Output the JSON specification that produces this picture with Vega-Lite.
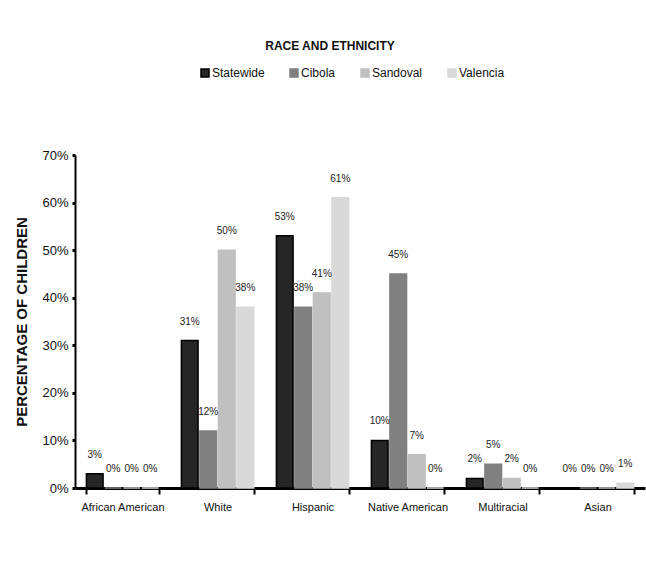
{
  "$schema": "https://vega.github.io/schema/vega-lite/v6.json",
  "width": 570,
  "height": 333,
  "autosize": "none",
  "padding": {"left": 75, "top": 155, "right": 1, "bottom": 85},
  "background": "white",
  "title": {
    "text": "RACE AND ETHNICITY",
    "font": "Liberation Sans",
    "fontSize": 12,
    "fontWeight": "bold",
    "color": "#111",
    "anchor": "middle",
    "dx": -30,
    "offset": 14
  },
  "data": {
    "values": [
      {"group": "African American", "series": "Statewide", "value": 0.03},
      {"group": "African American", "series": "Cibola", "value": 0.0},
      {"group": "African American", "series": "Sandoval", "value": 0.0},
      {"group": "African American", "series": "Valencia", "value": 0.0},
      {"group": "White", "series": "Statewide", "value": 0.31},
      {"group": "White", "series": "Cibola", "value": 0.12},
      {"group": "White", "series": "Sandoval", "value": 0.50},
      {"group": "White", "series": "Valencia", "value": 0.38},
      {"group": "Hispanic", "series": "Statewide", "value": 0.53},
      {"group": "Hispanic", "series": "Cibola", "value": 0.38},
      {"group": "Hispanic", "series": "Sandoval", "value": 0.41},
      {"group": "Hispanic", "series": "Valencia", "value": 0.61},
      {"group": "Native American", "series": "Statewide", "value": 0.10},
      {"group": "Native American", "series": "Cibola", "value": 0.45},
      {"group": "Native American", "series": "Sandoval", "value": 0.07},
      {"group": "Native American", "series": "Valencia", "value": 0.0},
      {"group": "Multiracial", "series": "Statewide", "value": 0.02},
      {"group": "Multiracial", "series": "Cibola", "value": 0.05},
      {"group": "Multiracial", "series": "Sandoval", "value": 0.02},
      {"group": "Multiracial", "series": "Valencia", "value": 0.0},
      {"group": "Asian", "series": "Statewide", "value": 0.0},
      {"group": "Asian", "series": "Cibola", "value": 0.0},
      {"group": "Asian", "series": "Sandoval", "value": 0.0},
      {"group": "Asian", "series": "Valencia", "value": 0.01}
    ]
  },
  "encoding": {
    "x": {
      "field": "group",
      "type": "nominal",
      "sort": ["African American", "White", "Hispanic", "Native American", "Multiracial", "Asian"],
      "scale": {"paddingInner": 0.24, "paddingOuter": 0.12},
      "axis": {
        "title": null,
        "labelAngle": 0,
        "labelFont": "Liberation Sans",
        "labelFontSize": 11,
        "labelColor": "#111",
        "labelPadding": 7,
        "tickBand": "extent",
        "tickSize": 6,
        "tickWidth": 2,
        "tickColor": "black",
        "domainColor": "black",
        "domainWidth": 3
      }
    },
    "xOffset": {
      "field": "series",
      "type": "nominal",
      "sort": ["Statewide", "Cibola", "Sandoval", "Valencia"],
      "scale": {"paddingInner": 0.1}
    },
    "y": {
      "field": "value",
      "type": "quantitative",
      "scale": {"domain": [0, 0.7]},
      "axis": {
        "title": "PERCENTAGE OF CHILDREN",
        "titleFont": "Liberation Sans",
        "titleFontSize": 15,
        "titleFontWeight": "bold",
        "titleColor": "#111",
        "titlePadding": 12,
        "format": ".0%",
        "values": [0, 0.1, 0.2, 0.3, 0.4, 0.5, 0.6, 0.7],
        "grid": false,
        "labelFont": "Liberation Sans",
        "labelFontSize": 13,
        "labelColor": "#111",
        "labelPadding": 4,
        "tickSize": 3,
        "tickWidth": 3,
        "tickColor": "black",
        "domainColor": "black",
        "domainWidth": 2
      }
    }
  },
  "layer": [
    {
      "mark": {"type": "bar", "strokeWidth": 1.5},
      "encoding": {
        "fill": {
          "field": "series",
          "type": "nominal",
          "sort": ["Statewide", "Cibola", "Sandoval", "Valencia"],
          "scale": {"domain": ["Statewide", "Cibola", "Sandoval", "Valencia"], "range": ["#262626", "#808080", "#c0c0c0", "#d9d9d9"]},
          "legend": {
            "title": null,
            "orient": "none",
            "direction": "horizontal",
            "legendX": 124,
            "legendY": -88,
            "symbolType": "square",
            "symbolSize": 64,
            "labelFont": "Liberation Sans",
            "labelFontSize": 12,
            "labelColor": "#111",
            "labelOffset": 1,
            "columnPadding": 22
          }
        },
        "stroke": {
          "field": "series",
          "type": "nominal",
          "sort": ["Statewide", "Cibola", "Sandoval", "Valencia"],
          "scale": {"domain": ["Statewide", "Cibola", "Sandoval", "Valencia"], "range": ["#000000", "#808080", "#c0c0c0", "#d9d9d9"]},
          "legend": {
            "title": null,
            "orient": "none",
            "direction": "horizontal",
            "legendX": 124,
            "legendY": -88,
            "symbolType": "square",
            "symbolSize": 64,
            "labelFont": "Liberation Sans",
            "labelFontSize": 12,
            "labelColor": "#111",
            "labelOffset": 1,
            "columnPadding": 22
          }
        }
      }
    },
    {
      "mark": {
        "type": "text",
        "baseline": "bottom",
        "dy": -14,
        "font": "Liberation Sans",
        "fontSize": 10,
        "color": "#222"
      },
      "encoding": {
        "text": {"field": "value", "type": "quantitative", "format": ".0%"}
      }
    }
  ],
  "config": {
    "view": {"stroke": null}
  }
}
